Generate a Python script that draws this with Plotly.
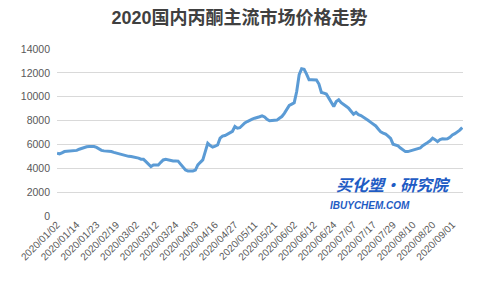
import plotly.graph_objects as go

title = "2020国内丙酮主流市场价格走势"

# prices (yuan/ton) per trading day
prices = [
    5270, 5200, 5300, 5400, 5420, 5450, 5490, 5490, 5500, 5600,
    5680, 5750, 5800, 5820, 5820, 5820, 5750, 5600, 5500, 5460,
    5450, 5420, 5400, 5330, 5270, 5220, 5180, 5100, 5040, 5000,
    4980, 4950, 4900, 4850, 4760, 4750, 4560, 4350, 4140, 4280,
    4280, 4280, 4500, 4700, 4760, 4700, 4620, 4620, 4620, 4600,
    4350, 4100, 3850, 3780, 3780, 3780, 3850, 4280, 4500, 4700,
    5400, 6100, 5900, 5770, 5850, 5960, 6520, 6700, 6750, 6850,
    6950, 7100, 7500, 7360, 7400, 7640, 7800, 7920, 8050, 8120,
    8200, 8290, 8320, 8400, 8300, 8100, 7980, 8000, 8040, 8040,
    8200, 8340, 8600, 8900, 9270, 9380, 9500, 10440, 11840, 12350,
    12300, 11900, 11420, 11420, 11420, 11400, 11060, 10360, 10300, 10220,
    9880, 9500, 9180, 9600, 9740, 9500, 9380, 9200, 9040, 8800,
    8540, 8680, 8500, 8420, 8300, 8150, 8000, 7850, 7700, 7550,
    7300, 7050, 6950, 6860, 6700, 6500, 6020, 5950, 5880, 5700,
    5550, 5400, 5400, 5460, 5500, 5540, 5630, 5700, 5900, 6000,
    6160, 6300, 6520, 6400, 6240, 6400, 6470, 6460, 6470, 6600,
    6800, 6900, 7030, 7200, 7420,
]

tick_labels = [
    "2020/01/02", "2020/01/14", "2020/01/23", "2020/02/19", "2020/03/02",
    "2020/03/12", "2020/03/24", "2020/04/03", "2020/04/16", "2020/04/27",
    "2020/05/11", "2020/05/21", "2020/06/02", "2020/06/12", "2020/06/24",
    "2020/07/07", "2020/07/17", "2020/07/29", "2020/08/10", "2020/08/20",
    "2020/09/01",
]
label_step = 8

x_idx = list(range(len(prices)))
tick_pos = [i * label_step for i in range(len(tick_labels))]

fig = go.Figure()
fig.add_trace(go.Scatter(
    x=x_idx, y=prices, mode="lines",
    line=dict(color="#5b9bd5", width=3),
    hoverinfo="y",
))

fig.update_layout(
    width=479, height=288,
    margin=dict(l=57, r=16, t=49, b=72),
    paper_bgcolor="white", plot_bgcolor="white",
    showlegend=False,
    font=dict(family="Liberation Sans, Noto Sans CJK SC, sans-serif", color="#595959"),
    title=dict(
        text="<b>" + title + "</b>",
        x=0.5, xanchor="center", y=0.94, yanchor="middle",
        font=dict(size=18, color="#404040",
                  family="Liberation Sans, Noto Sans CJK SC, sans-serif"),
    ),
    xaxis=dict(
        range=[0, 164.3],
        tickmode="array", tickvals=tick_pos, ticktext=tick_labels,
        tickangle=-45, tickfont=dict(size=10, color="#595959"),
        showgrid=False, zeroline=False, showline=False, ticks="",
    ),
    yaxis=dict(
        range=[0, 14000], dtick=2000, tickformat="d",
        showgrid=True, gridcolor="#d9d9d9", gridwidth=1,
        zeroline=False, showline=False, ticks="",
        tickfont=dict(size=10.5, color="#595959"),
        ticklabelstandoff=6,
    ),
)

fig.add_annotation(
    xref="x", yref="y", x=136, y=2650,
    text="<b><i>买化塑·研究院</i></b>", showarrow=False,
    font=dict(size=16, color="#1f5cc4", family="Noto Sans CJK SC, sans-serif"),
)
fig.add_annotation(
    xref="x", yref="y", x=126.7, y=900,
    text="<b><i>IBUYCHEM.COM</i></b>", showarrow=False,
    font=dict(size=10, color="#1f5cc4", family="Liberation Sans, sans-serif"),
)

fig.write_html("out.html")
